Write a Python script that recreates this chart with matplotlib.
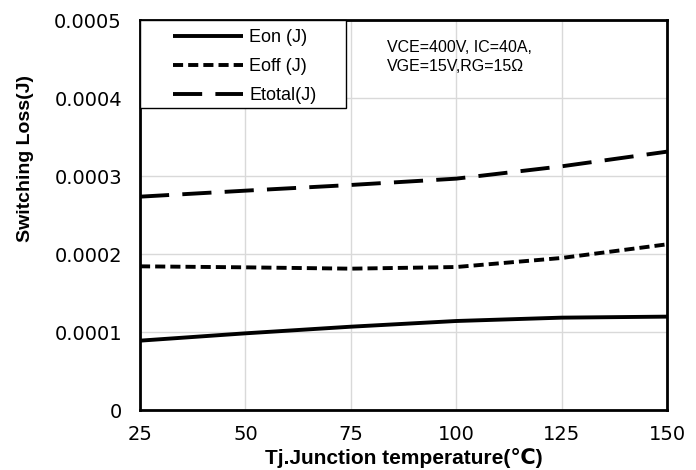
import numpy as np
import matplotlib
matplotlib.use("Agg")
import matplotlib.pyplot as plt
from matplotlib.patches import Rectangle

# datos
tj = [25, 50, 75, 100, 125, 150]
eon = [0.0000889, 0.0000983, 0.0001068, 0.0001141, 0.0001184, 0.0001197]
eoff = [0.0001842, 0.0001829, 0.0001812, 0.0001833, 0.0001949, 0.0002124]
etotal = [0.0002735, 0.0002812, 0.0002885, 0.0002966, 0.0003124, 0.0003312]

xticks = [25, 50, 75, 100, 125, 150]
yticks = [0, 0.0001, 0.0002, 0.0003, 0.0004, 0.0005]
ytick_labels = ["0", "0.0001", "0.0002", "0.0003", "0.0004", "0.0005"]

fig = plt.figure(figsize=(6.96, 4.70), dpi=100)
ax = fig.add_axes([140/696, 60/470, 527/696, 390/470])

lw = 2.8
ax.plot(tj, eon, color="black", lw=lw, solid_capstyle="butt", label="Eon (J)", zorder=4)
ax.plot(tj, eoff, color="black", lw=lw, dashes=(2.6, 1.3), dash_capstyle="butt", label="Eoff (J)", zorder=4)
ax.plot(tj, etotal, color="black", lw=lw, dashes=(7.5, 3.4), dash_capstyle="butt", label="Etotal(J)", zorder=4)

ax.set_xlim(25, 150)
ax.set_ylim(0, 0.0005)
ax.set_xticks(xticks)
ax.set_yticks(yticks)
ax.set_yticklabels(ytick_labels)
ax.tick_params(length=0, labelsize=14)
ax.tick_params(axis="y", pad=13)
ax.tick_params(axis="x", pad=11)
ax.grid(True, color="#d9d9d9", lw=1)
ax.set_axisbelow(True)
for s in ax.spines.values():
    s.set_linewidth(2)

ax.set_ylabel("Switching Loss(J)", fontsize=14, fontweight="bold",
              family=["Liberation Sans", "DejaVu Sans"])
ax.yaxis.set_label_coords(-0.201, 0.646)
ax.set_xlabel("Tj.Junction temperature(\u2103)", fontsize=15, fontweight="bold",
              family=["Liberation Sans", "DejaVu Sans"])
ax.xaxis.set_label_coords(0.5, -0.097)

# caja de la leyenda
box = Rectangle((0, 1 - 88/390), 206/527, 88/390, transform=ax.transAxes,
                facecolor="white", edgecolor="black", lw=1, zorder=5, clip_on=False)
ax.add_patch(box)
leg = ax.legend(loc="upper left", bbox_to_anchor=(173/696, 1 - 29/470),
                bbox_transform=fig.transFigure, frameon=False, borderpad=0,
                borderaxespad=0, handlelength=3.9, handletextpad=0.33,
                labelspacing=0.66, prop={"family": "Liberation Sans", "size": 13})
leg.set_zorder(6)

fig.text(387/696, 1 - 40/470, "VCE=400V, IC=40A,\nVGE=15V,RG=15\u03a9",
         fontsize=11.5, family=["Liberation Sans", "DejaVu Sans"], va="top",
         ha="left", linespacing=1.35)

fig.savefig("out.png", dpi=100)
